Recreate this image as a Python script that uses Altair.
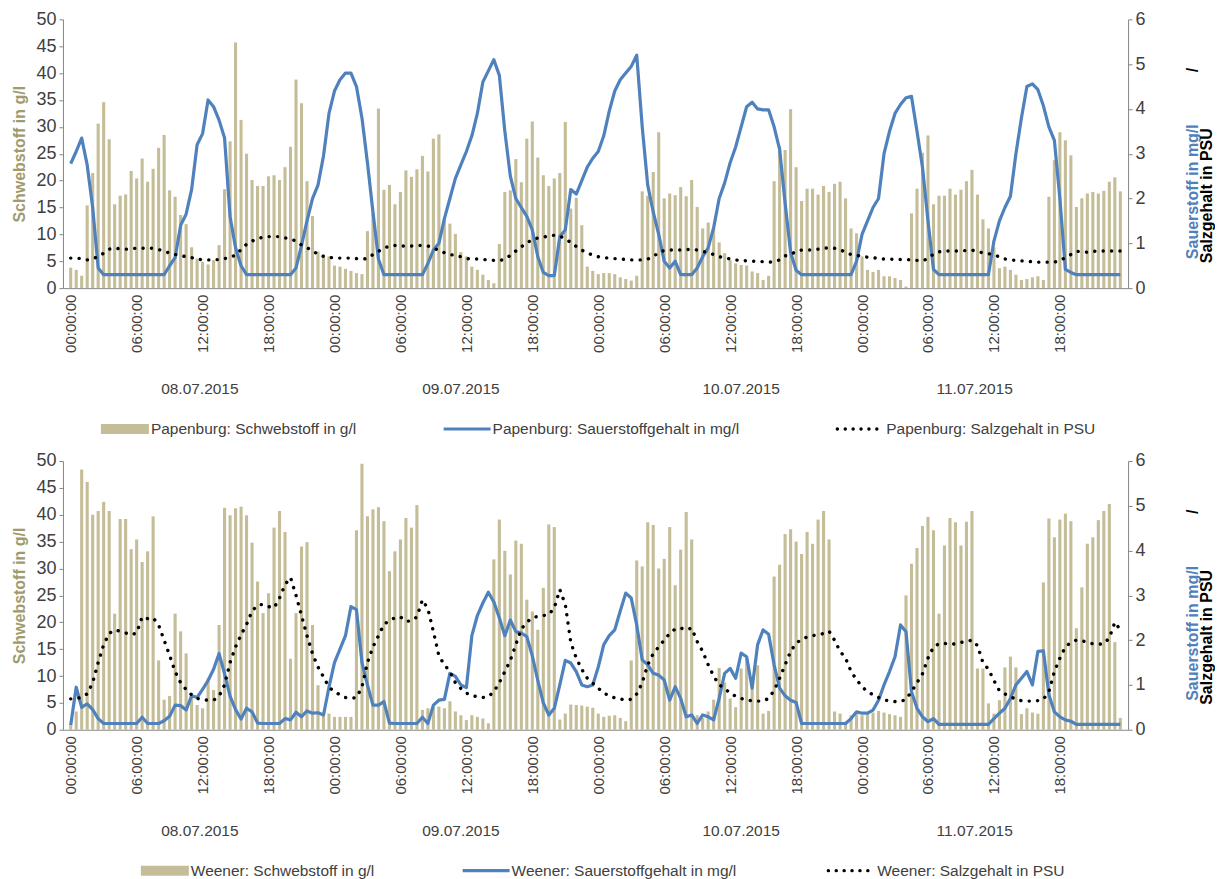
import altair as alt
import pandas as pd

# ---------------- data ----------------
idx = list(range(192))

tick_labels = ["00:00:00", "06:00:00", "12:00:00", "18:00:00",
               "00:00:00", "06:00:00", "12:00:00", "18:00:00",
               "00:00:00", "06:00:00", "12:00:00", "18:00:00",
               "00:00:00", "06:00:00", "12:00:00", "18:00:00"]
tick_pos = [0, 12, 24, 36, 48, 60, 72, 84, 96, 108, 120, 132, 144, 156, 168, 180]
date_labels = ["08.07.2015", "09.07.2015", "10.07.2015", "11.07.2015"]
date_pos = [23.5, 71.0, 122.0, 164.5]

pap_legend = ["Papenburg: Schwebstoff in g/l",
              "Papenburg: Sauerstoffgehalt in mg/l",
              "Papenburg: Salzgehalt in PSU"]
wee_legend = ["Weener: Schwebstoff in g/l",
              "Weener: Sauerstoffgehalt in mg/l",
              "Weener: Salzgehalt in PSU"]

pap_schweb = [
    3.8, 3.4, 2.3, 15.4, 21.4, 30.6, 34.6, 27.7, 15.6, 17.2,
    17.4, 21.8, 20.4, 24.1, 19.8, 22.2, 26.1, 28.5, 18.2, 17.0,
    13.6, 11.9, 7.6, 5.5, 4.9, 4.4, 5.2, 8.0, 18.4, 27.3,
    45.7, 31.3, 25.0, 20.1, 19.0, 19.0, 20.8, 21.0, 20.1, 22.5,
    26.3, 38.8, 34.4, 19.9, 13.4, 6.8, 6.2, 5.9, 4.2, 4.0,
    3.6, 3.2, 2.8, 2.6, 10.6, 14.0, 33.4, 18.3, 19.2,
    15.6, 17.9, 21.9, 20.7, 22.1, 24.6, 21.7, 27.8, 28.6, 12.7,
    12.0, 10.1, 6.7, 5.9, 4.0, 3.4, 2.5, 1.5, 0.9, 8.2,
    17.9, 18.2, 24.0, 19.7, 27.8, 31.0, 24.3, 21.0, 19.0, 20.4,
    21.4, 30.9, 14.8, 16.8, 11.7, 4.0, 3.2, 2.6, 2.8, 2.8,
    2.6, 2.0, 1.7, 1.4, 2.3, 18.0, 17.2, 21.6, 29.0, 16.7,
    17.6, 17.3, 18.8, 17.1, 20.1, 15.1, 11.1, 12.2, 11.2, 8.5,
    6.5, 5.2, 4.6, 4.3, 4.2, 3.1, 2.8, 1.5, 2.3, 19.9,
    26.4,
    25.7, 33.3, 22.5, 16.2, 18.5, 18.5, 17.4, 19.0, 17.9, 19.4,
    19.8, 16.7, 11.1, 10.2, 5.9, 3.4, 3.0, 3.4, 2.2, 2.2,
    1.9, 1.5, 0.3, 13.9, 18.5, 25.2, 28.4, 15.6, 17.2, 17.2,
    18.5, 17.4, 18.3, 19.9, 22.0, 17.4, 12.8, 11.1, 7.6, 3.7,
    4.0, 3.4, 2.5, 1.5, 1.7, 2.0, 2.2, 1.5, 17.0, 23.8,
    29.0, 27.5, 24.7, 15.1, 16.7, 17.6, 17.9, 17.6, 18.1, 19.8,
    20.6, 18.0,
]

pap_o2 = [
    2.78, 3.05, 3.35, 2.75, 1.8, 0.45,
    0.3, 0.3, 0.3, 0.3, 0.3, 0.3, 0.3, 0.3, 0.3, 0.3, 0.3, 0.3,
    0.5, 0.68, 1.4, 1.65, 2.2, 3.2, 3.45, 4.2, 4.05, 3.75, 3.35, 1.6, 0.9, 0.5,
    0.3, 0.3, 0.3, 0.3, 0.3, 0.3, 0.3, 0.3, 0.3,
    0.45, 0.95, 1.5, 2.0, 2.3, 2.95, 3.9, 4.4, 4.65, 4.8, 4.8, 4.5, 3.8, 2.8, 1.7, 0.65,
    0.3, 0.3, 0.3, 0.3, 0.3, 0.3, 0.3, 0.3,
    0.55, 0.85, 1.0, 1.55, 2.0, 2.45, 2.75, 3.05, 3.4, 3.9,
    4.6, 4.85, 5.1, 4.75, 3.5, 2.5, 2.0, 1.8, 1.6, 1.3,
    0.7, 0.35, 0.28, 0.28, 1.15, 1.3, 2.2, 2.1, 2.4, 2.7,
    2.9, 3.05, 3.4, 3.95, 4.4, 4.65, 4.8, 4.95, 5.2, 3.6,
    2.3, 1.7, 1.2, 0.6, 0.45, 0.6, 0.3, 0.3, 0.3, 0.45,
    0.7, 0.9, 1.35, 2.0, 2.35, 2.8, 3.15, 3.6, 4.05, 4.15,
    4.0, 3.98, 3.98, 3.6, 3.1, 1.9, 0.8, 0.4,
    0.3, 0.3, 0.3, 0.3, 0.3, 0.3, 0.3, 0.3, 0.3, 0.3,
    0.6, 1.2, 1.5, 1.8, 2.0, 3.0, 3.5, 3.9, 4.1, 4.25, 4.28, 3.5, 2.7, 1.5, 0.42,
    0.3, 0.3, 0.3, 0.3, 0.3, 0.3, 0.3, 0.3, 0.3, 0.3,
    1.05, 1.5, 1.8, 2.05, 3.0, 3.8, 4.5, 4.56, 4.43, 4.07, 3.6, 3.3, 2.0, 0.42, 0.35,
    0.3, 0.3, 0.3, 0.3, 0.3, 0.3, 0.3, 0.3, 0.3,
]

pap_salz = [
    0.67, 0.67, 0.66, 0.63, 0.66, 0.7, 0.78, 0.87, 0.89, 0.88,
    0.87, 0.88, 0.89, 0.89, 0.89, 0.89, 0.86, 0.83, 0.78, 0.75,
    0.73, 0.7, 0.68, 0.65, 0.63, 0.63, 0.63, 0.64, 0.66, 0.68,
    0.74, 0.86, 0.98, 1.05, 1.1, 1.14, 1.15, 1.15, 1.15, 1.12,
    1.1, 1.05, 0.96, 0.9, 0.84, 0.75, 0.71, 0.69, 0.67, 0.67,
    0.67, 0.67, 0.66, 0.65, 0.66, 0.75, 0.82, 0.89, 0.94, 0.95,
    0.95, 0.93,
    0.94, 0.95, 0.95, 0.94, 0.9, 0.84, 0.79, 0.75, 0.73, 0.7,
    0.66, 0.65, 0.65, 0.64, 0.63, 0.62, 0.61, 0.65, 0.73, 0.83,
    0.92, 1.02, 1.07, 1.12, 1.14, 1.16, 1.18, 1.16, 1.1, 1.02,
    0.93, 0.85, 0.78, 0.74, 0.7, 0.68, 0.67, 0.66, 0.65, 0.64,
    0.63, 0.63, 0.63, 0.65, 0.7, 0.8, 0.84, 0.85, 0.85, 0.85,
    0.86, 0.87, 0.85, 0.82, 0.79, 0.75, 0.7, 0.68, 0.65, 0.63,
    0.61, 0.61, 0.6, 0.6, 0.59, 0.58, 0.59, 0.63, 0.72,
    0.75, 0.82, 0.85, 0.85, 0.85, 0.87, 0.89, 0.9, 0.89, 0.86,
    0.8, 0.75, 0.73, 0.71, 0.69, 0.68, 0.66, 0.65, 0.65, 0.64,
    0.64, 0.64, 0.63, 0.62, 0.61, 0.66, 0.76, 0.81, 0.83, 0.83,
    0.83, 0.83, 0.84, 0.85, 0.81, 0.79, 0.77, 0.74, 0.7, 0.65,
    0.63, 0.62, 0.61, 0.6, 0.59, 0.58, 0.58, 0.58, 0.58, 0.62,
    0.68, 0.75, 0.82, 0.82, 0.8, 0.82, 0.83, 0.83, 0.83, 0.83,
    0.83,
]

wee_schweb = [
    0.8, 3.4, 48.4, 46.1, 40.0, 40.7, 42.4, 40.7, 21.6, 39.2,
    39.2, 33.6, 35.4, 31.2, 33.2, 39.7, 12.9, 5.6, 6.3, 21.6,
    18.3, 14.2, 6.2, 4.6, 4.0, 9.6, 7.4, 19.5, 41.3, 39.9,
    41.2, 41.5, 39.9, 34.8, 27.6, 21.7, 25.4, 37.6, 40.7, 36.8,
    13.2, 21.7, 34.1, 34.9, 19.5, 8.3, 3.0, 3.0, 2.4, 2.4,
    2.4, 2.4, 37.1, 49.5, 39.7, 41.0, 41.4, 38.8, 29.5, 33.2,
    35.4, 39.4, 37.6, 41.8, 3.7, 4.0, 4.3, 4.3, 4.0, 5.3,
    3.4, 2.7, 1.8, 2.7, 2.4, 2.1, 1.2, 31.7, 39.1, 33.3,
    28.9, 35.2, 34.6, 24.2, 22.0, 18.6, 26.4, 38.2, 37.7, 1.9,
    3.0, 4.7, 4.6, 4.5, 4.3, 4.1, 3.0, 2.4, 2.6, 2.7,
    2.2, 1.6, 12.9, 31.5, 30.4, 38.6, 38.1, 30.0, 31.8, 37.7,
    26.9, 33.5, 40.5, 35.4, 2.7, 2.2, 3.4, 5.6, 11.5, 8.8,
    5.8, 4.2, 11.4, 13.3, 8.6, 12.0, 3.0, 3.5, 28.5, 30.7,
    36.4, 37.3, 35.0, 32.7, 36.8, 34.6, 39.1, 40.7, 35.4, 3.4,
    3.0, 1.2, 2.7, 3.0, 2.7, 3.0, 3.2, 3.5, 3.2, 2.9,
    2.7, 2.4, 25.0, 30.9, 33.8, 37.9, 39.6, 37.1, 21.6, 34.3,
    39.4, 38.6, 34.3, 38.7, 40.7, 11.4, 11.4, 4.9, 3.0, 5.5,
    11.6, 13.6, 11.6, 2.9, 4.0, 3.2, 3.0, 27.4, 39.3, 35.8,
    39.1, 40.2, 38.8, 18.9, 26.5, 34.6, 35.8, 39.0, 40.7, 42.0,
    16.3, 2.2,
]

wee_o2 = [
    0.1, 0.95, 0.5, 0.58, 0.45, 0.25, 0.14, 0.14, 0.14, 0.14,
    0.14, 0.14, 0.14, 0.28, 0.14, 0.14, 0.14, 0.2, 0.3, 0.55,
    0.54, 0.44, 0.76, 0.72, 0.9, 1.1, 1.35, 1.7, 1.25, 0.75,
    0.45, 0.24, 0.48, 0.4, 0.15, 0.14, 0.14, 0.14, 0.14, 0.25,
    0.22, 0.39, 0.29, 0.42, 0.37, 0.38, 0.33, 0.95, 1.5, 1.8,
    2.1, 2.75, 2.68, 1.5, 1.0, 0.55, 0.55, 0.63, 0.15, 0.14,
    0.14, 0.14, 0.14, 0.14, 0.28, 0.14, 0.55, 0.66, 0.68, 1.26,
    1.19, 1.0, 0.94, 2.1, 2.55, 2.83, 3.07, 2.85, 2.5, 2.1,
    2.45, 2.19, 2.16, 2.08, 1.65, 1.1, 0.6, 0.33, 0.48, 1.0,
    1.55, 1.49, 1.3, 1.0, 0.96, 1.0, 1.4, 1.9, 2.1, 2.23,
    2.65, 3.05, 2.94, 2.34, 1.56, 1.45, 1.26, 1.22, 1.11, 0.66,
    0.96, 0.7, 0.29, 0.33, 0.14, 0.33, 0.29, 0.22, 0.7, 1.26,
    1.37, 1.15, 1.71, 1.63, 0.93, 1.9, 2.23, 2.13, 1.45, 0.93,
    0.76, 0.66, 0.61, 0.14, 0.14, 0.14, 0.14, 0.14, 0.14, 0.14,
    0.14, 0.14, 0.25, 0.4, 0.37, 0.37, 0.44, 0.66, 1.0, 1.3,
    1.63, 2.34, 2.19, 0.85, 0.48, 0.29, 0.18, 0.25, 0.12, 0.12,
    0.12, 0.12, 0.12, 0.12, 0.12, 0.12, 0.12, 0.12, 0.25, 0.37,
    0.48, 0.7, 1.0, 1.15, 1.3, 1.0, 1.75, 1.76, 0.78, 0.4,
    0.29, 0.22, 0.19, 0.12, 0.12, 0.12, 0.12, 0.12, 0.12, 0.12,
    0.12, 0.12,
]

wee_salz = [
    0.69, 0.69, 0.73, 0.8, 1.05, 1.5, 1.9, 2.15, 2.23, 2.2,
    2.16, 2.12, 2.16, 2.52, 2.48, 2.5, 2.34, 2.0, 1.66, 1.3,
    1.05, 0.9, 0.78, 0.7, 0.67, 0.66, 0.66, 0.75, 1.0, 1.5,
    1.85, 2.12, 2.35, 2.65, 2.78, 2.8, 2.75, 2.72, 2.94, 3.24,
    3.4, 3.0, 2.55, 2.1, 1.7, 1.4, 1.18, 0.95, 0.85, 0.78,
    0.72, 0.7, 0.72, 0.95, 1.5, 1.85, 2.1, 2.35, 2.44, 2.5,
    2.52, 2.42, 2.43, 2.52, 2.9, 2.7, 2.19, 1.65, 1.45, 1.3,
    1.05, 0.92, 0.82, 0.76, 0.74, 0.72, 0.74, 0.85, 1.05, 1.3,
    1.55, 1.9, 2.25, 2.4, 2.5, 2.53, 2.55, 2.57, 2.72, 3.13,
    2.8, 1.95, 1.6, 1.35, 1.15, 1.04, 0.93, 0.82, 0.76, 0.71,
    0.69, 0.66, 0.68, 0.8, 1.05, 1.45, 1.7, 1.85, 2.0, 2.15,
    2.25, 2.27, 2.23, 2.27, 1.97, 1.75, 1.45, 1.2, 1.0, 0.93,
    0.81, 0.75, 0.7, 0.66, 0.65, 0.64, 0.64, 0.7, 0.88, 1.15,
    1.45, 1.75, 1.93, 2.02, 2.07, 2.1, 2.12, 2.15, 2.2, 2.0,
    1.75, 1.6, 1.3, 1.12, 0.96, 0.85, 0.78, 0.72, 0.67, 0.64,
    0.63, 0.63, 0.68, 0.85, 1.05, 1.25, 1.6, 1.85, 1.92, 1.93,
    1.9, 1.92, 1.95, 1.97, 2.0, 1.88, 1.5, 1.35, 1.1, 0.87,
    0.8, 0.74, 0.68, 0.65, 0.64, 0.64, 0.65, 0.68, 0.85, 1.3,
    1.6, 1.85, 1.95, 2.0, 1.99, 1.95, 1.92, 1.91, 1.92, 2.05,
    2.4, 2.23,
]

# ---------------- styling ----------------
W, H = 1066, 269
FONT = "Liberation Sans"
TXT = "#404040"
AXC = "#868686"
BAR = "#C4BD97"
BLUE = "#4F81BD"
OLIVE = "#A09B6E"

label_expr = "[" + ",".join("'%s'" % t for t in tick_labels) + "][round(datum.value / 12)]"

x_scale = alt.Scale(domain=[-0.5, 191.5], nice=False, zero=False)
x_axis = alt.Axis(values=tick_pos, labelExpr=label_expr, labelAngle=270,
                  labelAlign="right", labelBaseline="middle", labelFontSize=15,
                  labelColor=TXT, labelFont=FONT, ticks=False, grid=False,
                  domainColor=AXC, title=None, labelPadding=6, labelOverlap=False)

one = pd.DataFrame({"a": [0]})


def panel(schweb, o2, salz, legend, leg_x):
    df = pd.DataFrame({"i": idx, "s": schweb, "o": o2, "z": salz})
    ddf = pd.DataFrame({"pos": date_pos, "lab": date_labels})

    bars = alt.Chart(df).mark_bar(color=BAR, size=3.1).encode(
        x=alt.X("i:Q", scale=x_scale, axis=x_axis),
        y=alt.Y("s:Q", scale=alt.Scale(domain=[0, 50], nice=False),
                axis=alt.Axis(values=list(range(0, 51, 5)), title="Schwebstoff in g/l",
                              titleColor=OLIVE, titleFontSize=16, titleFont=FONT,
                              titleFontWeight="bold", titlePadding=8,
                              labelFontSize=18, labelColor=TXT, labelFont=FONT,
                              tickSize=4, tickColor=AXC, domainColor=AXC, grid=False,
                              labelPadding=3)),
    )
    r_axis = alt.Axis(orient="right", values=list(range(0, 7)), title=None,
                      labelFontSize=18, labelColor=TXT, labelFont=FONT,
                      tickSize=4, tickColor=AXC, domainColor=AXC, grid=False,
                      labelPadding=3)
    r_scale = alt.Scale(domain=[0, 6], nice=False)
    o2_line = alt.Chart(df).mark_line(color=BLUE, strokeWidth=3.2, strokeJoin="round").encode(
        x=alt.X("i:Q", scale=x_scale, axis=x_axis),
        y=alt.Y("o:Q", scale=r_scale, axis=r_axis),
    )
    salz_line = alt.Chart(df).mark_line(color="black", strokeWidth=3.4, strokeDash=[0.1, 8.3],
                                        strokeCap="round").encode(
        x=alt.X("i:Q", scale=x_scale, axis=x_axis),
        y=alt.Y("z:Q", scale=r_scale, axis=r_axis),
    )
    lines = alt.layer(o2_line, salz_line)

    dates = alt.Chart(ddf).mark_text(font=FONT, fontSize=15.5, color=TXT, baseline="middle").encode(
        x=alt.X("pos:Q", scale=x_scale, axis=x_axis),
        y=alt.value(H + 101),
        text="lab:N",
    )

    ly = H + 141
    leg_rect = alt.Chart(one).mark_rect(color=BAR).encode(
        x=alt.value(leg_x[0]), x2=alt.value(leg_x[0] + 48),
        y=alt.value(ly - 5), y2=alt.value(ly + 5))
    leg_t1 = alt.Chart(one).mark_text(font=FONT, fontSize=15.5, color=TXT, align="left",
                                      baseline="middle").encode(
        x=alt.value(leg_x[0] + 50), y=alt.value(ly), text=alt.value(legend[0]))
    leg_line = alt.Chart(one).mark_rule(color=BLUE, strokeWidth=3.2).encode(
        x=alt.value(leg_x[1]), x2=alt.value(leg_x[1] + 47), y=alt.value(ly))
    leg_t2 = alt.Chart(one).mark_text(font=FONT, fontSize=15.5, color=TXT, align="left",
                                      baseline="middle").encode(
        x=alt.value(leg_x[1] + 49), y=alt.value(ly), text=alt.value(legend[1]))
    leg_dot = alt.Chart(one).mark_rule(color="black", strokeWidth=3.4, strokeDash=[0.1, 7.8],
                                       strokeCap="round").encode(
        x=alt.value(leg_x[2] + 2), x2=alt.value(leg_x[2] + 47), y=alt.value(ly))
    leg_t3 = alt.Chart(one).mark_text(font=FONT, fontSize=15.5, color=TXT, align="left",
                                      baseline="middle").encode(
        x=alt.value(leg_x[2] + 51), y=alt.value(ly), text=alt.value(legend[2]))

    rt1 = alt.Chart(one).mark_text(font=FONT, fontSize=16, fontWeight="bold", color=BLUE,
                                   angle=270, align="left", baseline="middle").encode(
        x=alt.value(W + 65), y=alt.value(240), text=alt.value("Sauerstoff in   mg/l"))
    rt1b = alt.Chart(one).mark_text(font=FONT, fontSize=16, fontWeight="bold", color="black",
                                    angle=270, align="left", baseline="middle").encode(
        x=alt.value(W + 65), y=alt.value(53), text=alt.value("/"))
    rt2 = alt.Chart(one).mark_text(font=FONT, fontSize=16, fontWeight="bold", color="black",
                                   angle=270, align="left", baseline="middle").encode(
        x=alt.value(W + 79), y=alt.value(244), text=alt.value("Salzgehalt in PSU"))

    return alt.layer(bars, lines, dates, leg_rect, leg_t1, leg_line, leg_t2,
                     leg_dot, leg_t3, rt1, rt1b, rt2).resolve_scale(y="independent").properties(
        width=W, height=H)


top = panel(pap_schweb, pap_o2, pap_salz, pap_legend, [38, 381, 773])
bottom = panel(wee_schweb, wee_o2, wee_salz, wee_legend, [78, 400, 764])

chart = alt.vconcat(top, bottom, spacing=14).properties(
    padding={"left": 3, "top": 2, "right": 0, "bottom": 2}
).configure_view(stroke=None).configure_axis(labelFont=FONT, titleFont=FONT)

chart.save("out.html", embed_options={"renderer": "svg", "actions": False})
